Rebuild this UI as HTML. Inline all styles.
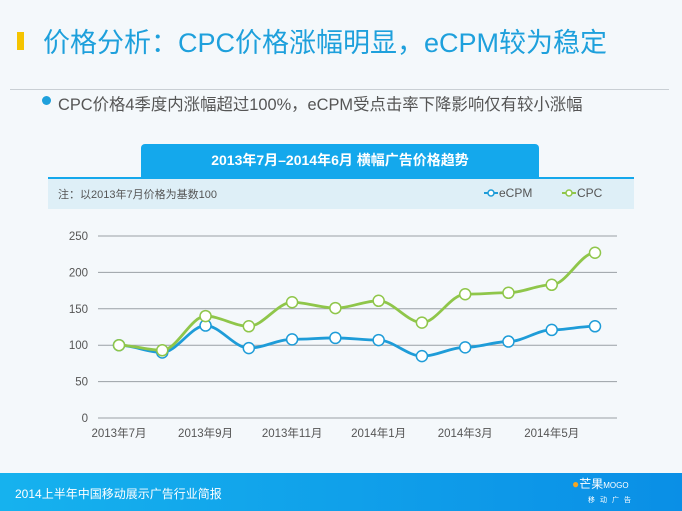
<!DOCTYPE html>
<html><head><meta charset="utf-8"><style>
body{margin:0;width:682px;height:511px;overflow:hidden;background:#f4f8fb;font-family:"Liberation Sans","Noto Sans CJK SC",sans-serif;position:relative}
.a{position:absolute}
</style></head><body>
<div class="a" style="left:17px;top:32px;width:7px;height:18px;background:#f5c400"></div>
<div class="a" style="left:43px;top:21px;font-size:27px;color:#1ea0dc;white-space:nowrap">价格分析：CPC价格涨幅明显，eCPM较为稳定</div>
<div class="a" style="left:10px;top:89px;width:659px;height:1px;background:#c9cfd4"></div>
<div class="a" style="left:42px;top:96px;width:9px;height:9px;border-radius:50%;background:#1ea0dc"></div>
<div class="a" style="left:58px;top:91px;font-size:16.4px;color:#555;white-space:nowrap">CPC价格4季度内涨幅超过100%，eCPM受点击率下降影响仅有较小涨幅</div>
<div class="a" style="left:141px;top:144px;width:398px;height:34px;background:#14a8ec;border-radius:4px 4px 0 0;color:#fff;font-weight:bold;font-size:14px;text-align:center;line-height:32px">2013年7月–2014年6月 横幅广告价格趋势</div>
<div class="a" style="left:48px;top:177px;width:586px;height:2px;background:#14a8ec"></div>
<div class="a" style="left:48px;top:179px;width:586px;height:30px;background:#deeff7"></div>
<div class="a" style="left:58px;top:186px;font-size:11px;color:#555">注：以2013年7月价格为基数100</div>
<svg class="a" style="left:0;top:0" width="682" height="511">
<g><line x1="484" y1="193" x2="498" y2="193" stroke="#1e9cd8" stroke-width="2"/><circle cx="491" cy="193" r="3" fill="#fff" stroke="#1e9cd8" stroke-width="1.5"/><text x="499" y="197" font-size="12" fill="#555">eCPM</text></g>
<g><line x1="562" y1="193" x2="576" y2="193" stroke="#8fc64a" stroke-width="2"/><circle cx="569" cy="193" r="3" fill="#fff" stroke="#8fc64a" stroke-width="1.5"/><text x="577" y="197" font-size="12" fill="#555">CPC</text></g>
<g id="grid"></g><g id="lines"></g>
</svg>
<div class="a" style="left:0;top:473px;width:682px;height:38px;background:linear-gradient(90deg,#16b2ee,#0a8fe6)"></div>
<div class="a" style="left:15px;top:485px;font-size:12px;color:#fff">2014上半年中国移动展示广告行业简报</div>
<div class="a" style="left:572px;top:478px;font-size:12px;color:#fff;line-height:13px"><span style="color:#f5a623">●</span>芒果<span style="font-size:8px">MOGO</span><br><span style="font-size:7px;letter-spacing:5px;margin-left:16px">移动广告</span></div>
<script>
const categories=["2013年7月","2013年8月","2013年9月","2013年10月","2013年11月","2013年12月","2014年1月","2014年2月","2014年3月","2014年4月","2014年5月","2014年6月"];
const ecpm=[100,90,127,96,108,110,107,85,97,105,121,126];
const cpc=[100,93,140,126,159,151,161,131,170,172,183,227];
const yTicks=[0,50,100,150,200,250];
const NS="http://www.w3.org/2000/svg";
const x=i=>119+i*(595-119)/(categories.length-1);
const y=v=>418-v*(418-236)/250;
function el(t,a,p){const e=document.createElementNS(NS,t);for(const k in a)e.setAttribute(k,a[k]);p.appendChild(e);return e;}
const g=document.getElementById('grid'),L=document.getElementById('lines');
yTicks.forEach(v=>{const l=el('line',{x1:98,x2:617,y1:y(v),y2:y(v),stroke:'#9aa0a6','stroke-width':1},g);


const t=el('text',{x:88,y:y(v)+4,'text-anchor':'end','font-size':11.5,fill:'#555'},g);t.textContent=v;

});
categories.forEach((c,i)=>{if(i%2)return;const t=el('text',{x:x(i),y:437,'text-anchor':'middle','font-size':11.5,fill:'#555'},g);t.textContent=c;

});
function path(d){let s='M'+x(0)+','+y(d[0]);for(let i=1;i<d.length;i++){const x0=x(i-1),x1=x(i),m=(x1-x0)/3;s+=` C${x0+m},${y(d[i-1])} ${x1-m},${y(d[i])} ${x1},${y(d[i])}`;}return s;}
[[ecpm,'#1e9cd8','ecpm'],[cpc,'#8fc64a','cpc']].forEach(([d,c,n])=>{
const p=el('path',{d:path(d),fill:'none',stroke:c,'stroke-width':2.8},L);


d.forEach((v,i)=>{const ci=el('circle',{cx:x(i),cy:y(v),r:5.5,fill:'#fff',stroke:c,'stroke-width':1.5},L);

});});
</script>
</body></html>
